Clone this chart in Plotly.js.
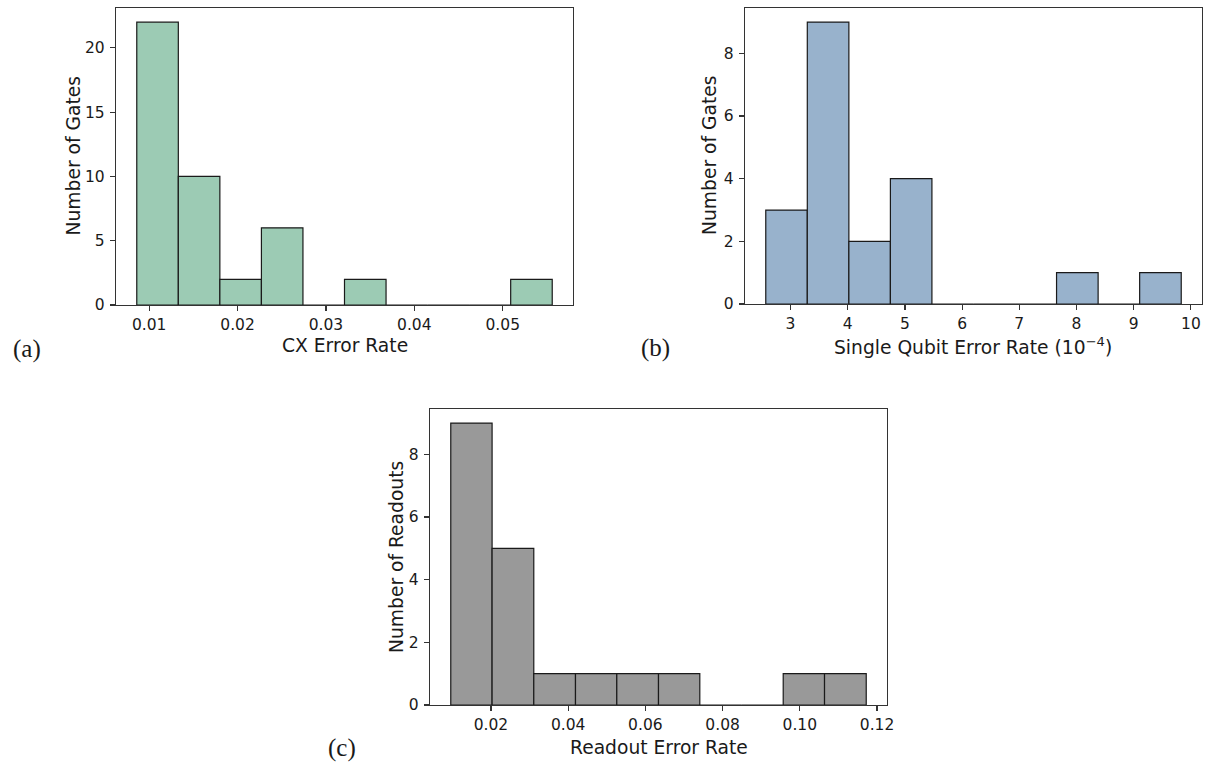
<!DOCTYPE html>
<html>
<head>
<meta charset="utf-8">
<script src="https://cdn.plot.ly/plotly-3.0.1.min.js"></script>
<style>
  html, body { margin: 0; padding: 0; background: #ffffff; }
  #chart { width: 1207px; height: 765px; }
</style>
</head>
<body>
<div id="chart"></div>
<script>
// ---- Data (histogram bin edges and counts) ----
const cxBinEdges = [0.0086, 0.0133, 0.0180, 0.0227, 0.0274, 0.0321, 0.0368, 0.0415, 0.0462, 0.0509, 0.0556];
const cxCounts   = [22, 10, 2, 6, 0, 2, 0, 0, 0, 2];

const sqBinEdges = [2.567, 3.293, 4.020, 4.746, 5.472, 6.199, 6.925, 7.651, 8.378, 9.104, 9.831];
const sqCounts   = [3, 9, 2, 4, 0, 0, 0, 1, 0, 1];

const roBinEdges = [0.0096, 0.0203, 0.0311, 0.0419, 0.0526, 0.0634, 0.0741, 0.0849, 0.0957, 0.1064, 0.1172];
const roCounts   = [9, 5, 1, 1, 1, 1, 0, 0, 1, 1];

const cxTicks = [0.01, 0.02, 0.03, 0.04, 0.05];
const sqTicks = [3, 4, 5, 6, 7, 8, 9, 10];
const roTicks = [0.02, 0.04, 0.06, 0.08, 0.10, 0.12];

const panelLabels = ["(a)", "(b)", "(c)"];
const xTitles = ["CX Error Rate", "Single Qubit Error Rate (10<sup>\u22124</sup>)", "Readout Error Rate"];
const yTitles = ["Number of Gates", "Number of Gates", "Number of Readouts"];

// ---- Helpers ----
const W = 1207, H = 765;
const px = x => x / W;
const py = y => 1 - y / H;

function barTrace(edges, counts, color, xa, ya) {
  const centers = [], widths = [];
  for (let i = 0; i < counts.length; i++) {
    centers.push((edges[i] + edges[i + 1]) / 2);
    widths.push(edges[i + 1] - edges[i]);
  }
  return {
    type: 'bar', x: centers, y: counts, width: widths,
    xaxis: xa, yaxis: ya,
    marker: { color: color, line: { color: '#1a1a1a', width: 1.2 } },
    hoverinfo: 'x+y', showlegend: false
  };
}

function xRange(edges) {
  const span = edges[edges.length - 1] - edges[0];
  return [edges[0] - 0.05 * span, edges[edges.length - 1] + 0.05 * span];
}
function yRange(counts) { return [0, Math.max(...counts) * 1.05]; }

const tickFont = { family: 'DejaVu Sans, sans-serif', size: 15.5, color: '#1a1a1a' };
const titleFont = { family: 'DejaVu Sans, sans-serif', size: 18.7, color: '#1a1a1a' };
const labelFont = { family: 'Liberation Serif, serif', size: 25, color: '#1a1a1a' };

function axisBase(domain, range, anchor) {
  return {
    domain: domain, range: range, anchor: anchor,
    showgrid: false, zeroline: false,
    showline: true, mirror: true, linecolor: '#333333', linewidth: 1.2,
    ticks: 'outside', ticklen: 5, tickwidth: 1.2, tickcolor: '#333333',
    tickfont: tickFont, fixedrange: true
  };
}

const data = [
  barTrace(cxBinEdges, cxCounts, '#9ccbb4', 'x', 'y'),
  barTrace(sqBinEdges, sqCounts, '#98b2cc', 'x2', 'y2'),
  barTrace(roBinEdges, roCounts, '#999999', 'x3', 'y3')
];

const layout = {
  width: W, height: H,
  margin: { l: 0, r: 0, t: 0, b: 0 },
  paper_bgcolor: '#ffffff', plot_bgcolor: '#ffffff',
  bargap: 0,
  xaxis:  Object.assign(axisBase([px(116), px(573)], xRange(cxBinEdges), 'y'),
          { tickvals: cxTicks, ticktext: cxTicks.map(v => v.toFixed(2)) }),
  yaxis:  Object.assign(axisBase([py(305), py(8)], yRange(cxCounts), 'x'),
          { dtick: 5, tick0: 0, ticklabelstandoff: 2 }),
  xaxis2: Object.assign(axisBase([px(745), px(1202)], xRange(sqBinEdges), 'y2'),
          { tickvals: sqTicks, ticktext: sqTicks.map(v => String(v)) }),
  yaxis2: Object.assign(axisBase([py(304), py(8)], yRange(sqCounts), 'x2'),
          { dtick: 2, tick0: 0, ticklabelstandoff: 2 }),
  xaxis3: Object.assign(axisBase([px(430), px(887)], xRange(roBinEdges), 'y3'),
          { tickvals: roTicks, ticktext: roTicks.map(v => v.toFixed(2)) }),
  yaxis3: Object.assign(axisBase([py(705), py(409)], yRange(roCounts), 'x3'),
          { dtick: 2, tick0: 0, ticklabelstandoff: 2 }),
  annotations: [
    // panel labels
    { text: panelLabels[0], x: px(27),  y: py(349), font: labelFont },
    { text: panelLabels[1], x: px(655), y: py(348), font: labelFont },
    { text: panelLabels[2], x: px(342), y: py(748), font: labelFont },
    // x-axis titles
    { text: xTitles[0], x: px(344.5), y: py(346), font: titleFont },
    { text: xTitles[1], x: px(973.5), y: py(346), font: titleFont },
    { text: xTitles[2], x: px(658.5), y: py(747), font: titleFont },
    // y-axis titles
    { text: yTitles[0], x: px(73),  y: py(156.5), font: titleFont, textangle: -90 },
    { text: yTitles[1], x: px(710), y: py(156),   font: titleFont, textangle: -90 },
    { text: yTitles[2], x: px(396), y: py(557),   font: titleFont, textangle: -90 }
  ].map(a => Object.assign({ xref: 'paper', yref: 'paper', showarrow: false,
                             xanchor: 'center', yanchor: 'middle' }, a))
};

Plotly.newPlot('chart', data, layout, { displayModeBar: false, staticPlot: true });
</script>
</body>
</html>
